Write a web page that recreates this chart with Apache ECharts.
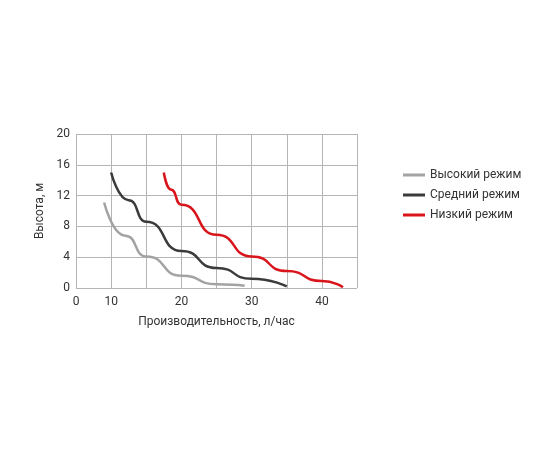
<!DOCTYPE html>
<html>
<head>
<meta charset="utf-8">
<script src="https://cdn.jsdelivr.net/npm/echarts@6/dist/echarts.min.js"></script>
<style>
  html, body { margin: 0; padding: 0; background: #fff; }
  #chart { width: 550px; height: 450px; }
</style>
</head>
<body>
<div id="chart"></div>
<script>
var seriesNames = ["Высокий режим", "Средний режим", "Низкий режим"];
var highMode = [[9, 11.1], [12, 6.8], [15, 4.1], [20, 1.6], [25, 0.5], [29, 0.3]];
var midMode = [[10, 15], [12.5, 11.4], [15, 8.6], [20, 4.8], [25, 2.6], [30, 1.2], [35, 0.2]];
var lowMode = [[17.5, 15], [18.5, 12.8], [20, 10.8], [25, 6.9], [30, 4.1], [35, 2.2], [40, 0.9], [43, 0.1]];
var colors = ["#a3a3a3", "#3b3b3d", "#d9141b"];

var myChart = echarts.init(document.getElementById("chart"));
var font = "Roboto";
myChart.setOption({
  animation: false,
  color: colors,
  grid: { left: 76, top: 134, width: 281, height: 154 },
  legend: {
    orient: "vertical",
    left: 398,
    top: 164,
    itemGap: 8,
    itemWidth: 22,
    itemHeight: 14,
    icon: "path://M0,6 L22,6 L22,9 L0,9 Z",
    textStyle: { fontFamily: font, fontSize: 12, color: "#333" },
    data: seriesNames
  },
  xAxis: {
    type: "value",
    min: 5,
    max: 45,
    interval: 5,
    name: "Производительность, л/час",
    nameLocation: "middle",
    nameGap: 28,
    nameTextStyle: { fontFamily: font, fontSize: 12, color: "#333" },
    axisLine: { show: false },
    axisTick: { show: false },
    axisLabel: {
      fontFamily: font, fontSize: 12, color: "#333", margin: 8,
      formatter: function (v) { return v === 5 ? "0" : (v % 10 === 0 && v < 45 ? String(v) : ""); }
    },
    splitLine: { lineStyle: { color: "#b5b5b5", width: 1 } }
  },
  yAxis: {
    type: "value",
    min: 0,
    max: 20,
    interval: 4,
    name: "Высота, м",
    nameLocation: "middle",
    nameGap: 30,
    nameTextStyle: { fontFamily: font, fontSize: 12, color: "#333" },
    axisLine: { show: false },
    axisTick: { show: false },
    axisLabel: { fontFamily: font, fontSize: 12, color: "#333", margin: 6 },
    splitLine: { lineStyle: { color: "#b5b5b5", width: 1 } }
  },
  series: [
    { name: seriesNames[0], type: "line", data: highMode, smooth: 0.6, smoothMonotone: "x", showSymbol: false, lineStyle: { width: 2.5 } },
    { name: seriesNames[1], type: "line", data: midMode, smooth: 0.6, smoothMonotone: "x", showSymbol: false, lineStyle: { width: 2.5 } },
    { name: seriesNames[2], type: "line", data: lowMode, smooth: 0.6, smoothMonotone: "x", showSymbol: false, lineStyle: { width: 2.5 } }
  ]
});
</script>
</body>
</html>
